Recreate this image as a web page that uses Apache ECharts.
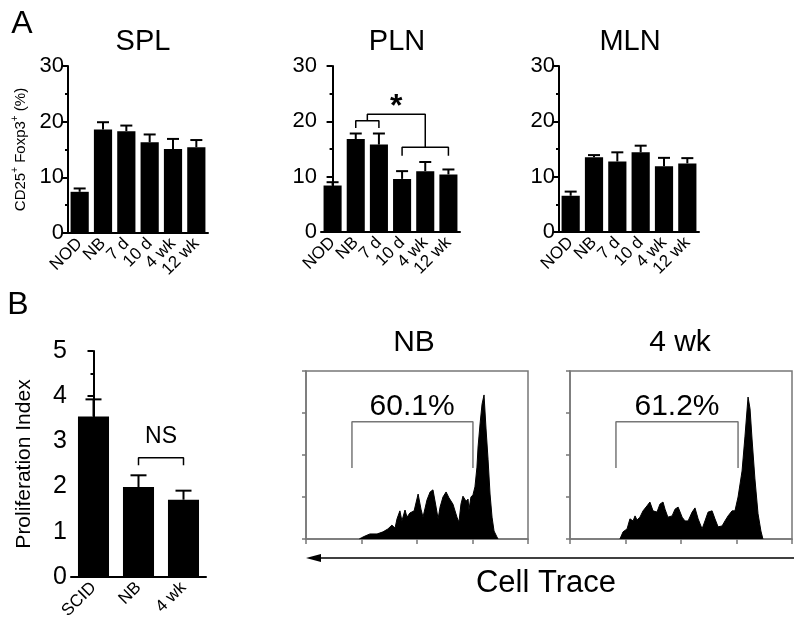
<!DOCTYPE html>
<html>
<head>
<meta charset="utf-8">
<script src="https://cdn.jsdelivr.net/npm/echarts@6/dist/echarts.min.js"></script>
<style>
  html, body { margin: 0; padding: 0; background: #fff; }
  #chart { width: 800px; height: 634px; }
</style>
</head>
<body>
<div id="chart"></div>
<script>
const FONT = '"Liberation Sans", Arial, sans-serif';

// Panel A: CD25+ Foxp3+ (%) by group, mean and upper SEM
const groups = ["NOD", "NB", "7 d", "10 d", "4 wk", "12 wk"];
const splMean = [7.4, 18.6, 18.3, 16.3, 15.1, 15.4];
const splErr = [0.6, 1.3, 1.0, 1.4, 1.8, 1.3];
const plnMean = [8.4, 16.8, 15.8, 9.6, 11.0, 10.4];
const plnErr = [0.6, 1.0, 2.0, 1.4, 1.65, 0.9];
const mlnMean = [6.55, 13.5, 12.75, 14.4, 11.9, 12.4];
const mlnErr = [0.75, 0.4, 1.65, 1.2, 1.5, 0.95];
const panelTitles = ["SPL", "PLN", "MLN"];

// PLN significance brackets (x in group index units)
const plnBracketLeft = [[1, 18.8], [1, 20.1], [2, 20.1], [2, 18.8]];
const plnBracketLink = [[1.5, 20.1], [1.5, 21.3], [4, 21.3], [4, 15.3]];
const plnBracketRight = [[3, 13.8], [3, 15.3], [5, 15.3], [5, 13.8]];
const plnStar = [[2.75, 24.2]];

// Panel B: proliferation index
const bGroups = ["SCID", "NB", "4 wk"];
const bMean = [3.55, 1.99, 1.71];
const bErr = [0.38, 0.26, 0.2];
const bBracket = [[1, 2.47], [1, 2.64], [2, 2.64], [2, 2.47]];
const bNs = [[1.5, 3.1]];

// Cell Trace histograms: [channel, count]
const histNB = [
  [240, 0], [250, 3], [257, 0], [266, 7], [288, 12], [320, 12], [347, 17], [369, 24],
  [387, 33], [401, 26], [410, 48], [423, 67], [432, 43], [446, 69], [455, 52], [468, 62],
  [487, 67], [505, 107], [518, 71], [527, 52], [545, 93], [559, 112], [572, 117], [586, 76],
  [595, 48], [604, 76], [617, 100], [631, 112], [644, 98], [662, 83], [680, 52], [689, 40],
  [698, 83], [707, 102], [721, 90], [730, 95], [734, 69], [743, 100], [752, 105], [761, 124],
  [770, 171], [775, 219], [784, 274], [793, 321], [802, 343], [811, 262], [820, 190],
  [829, 107], [838, 52], [847, 19], [860, 5], [865, 0]
];
const hist4wk = [
  [225, 0], [239, 17], [257, 24], [270, 48], [284, 43], [293, 55], [302, 45], [315, 52],
  [329, 67], [347, 79], [360, 88], [374, 67], [392, 64], [405, 83], [419, 88], [428, 71],
  [441, 52], [460, 55], [473, 71], [487, 76], [505, 52], [518, 43], [532, 43], [550, 64],
  [563, 74], [577, 48], [595, 24], [608, 43], [622, 64], [640, 67], [653, 48], [667, 29],
  [685, 31], [698, 43], [712, 55], [730, 67], [743, 67], [757, 100], [775, 162], [788, 243],
  [802, 338], [811, 310], [820, 238], [833, 143], [847, 60], [860, 19], [869, 0]
];
const gateNB = [[207, 169], [207, 279], [752, 279], [752, 169]];
const gate4wk = [[207, 169], [207, 279], [757, 279], [757, 169]];
const gateLabelNB = [[478, 314]];
const gateLabel4wk = [[482, 314]];
const histTitles = ["NB", "4 wk"];
const gatePercents = ["60.1%", "61.2%"];

const chart = echarts.init(document.getElementById("chart"));

const errRender = (half) => (params, api) => {
  const x = api.value(0);
  const m = api.value(1);
  const top = m + api.value(2);
  const p0 = api.coord([x, m]);
  const p1 = api.coord([x, top]);
  const style = { stroke: "#000", lineWidth: 2 };
  return {
    type: "group",
    children: [
      { type: "line", shape: { x1: p0[0], y1: p0[1], x2: p1[0], y2: p1[1] }, style },
      { type: "line", shape: { x1: p1[0] - half, y1: p1[1], x2: p1[0] + half, y2: p1[1] }, style },
    ],
  };
};

const catAxis = (gridIndex, data, fontSize) => ({
  type: "category",
  gridIndex,
  data,
  axisLine: { lineStyle: { color: "#000", width: 2 } },
  axisTick: { alignWithLabel: true, length: 5, lineStyle: { color: "#000", width: 2 } },
  axisLabel: { rotate: 45, fontSize, fontFamily: FONT, color: "#000", margin: 8, interval: 0 },
});

const valAxis = (gridIndex, max, interval, fontSize) => ({
  type: "value",
  gridIndex,
  min: 0,
  max,
  interval,
  axisLine: { show: true, lineStyle: { color: "#000", width: 2 } },
  axisTick: { show: true, length: 6, lineStyle: { color: "#000", width: 2 } },
  minorTick: { show: true, splitNumber: 2, length: 3, lineStyle: { color: "#000", width: 2 } },
  axisLabel: { fontSize, fontFamily: FONT, color: "#000", margin: 4 },
  splitLine: { show: false },
});

const histX = (gridIndex) => ({
  type: "value",
  gridIndex,
  min: 0,
  max: 1000,
  interval: 250,
  axisLine: { lineStyle: { color: "#777", width: 1.5 } },
  axisTick: { length: 5, lineStyle: { color: "#777", width: 1.5 } },
  axisLabel: { show: false },
  splitLine: { show: false },
});

const histY = (gridIndex) => ({
  type: "value",
  gridIndex,
  min: 0,
  max: 400,
  interval: 100,
  axisLine: { show: true, lineStyle: { color: "#777", width: 1.5 } },
  axisTick: { show: true, length: 4, lineStyle: { color: "#777", width: 1.5 } },
  axisLabel: { show: false },
  splitLine: { show: false },
});

const bracket = (xi, yi, data, color, width) => ({
  type: "line",
  xAxisIndex: xi,
  yAxisIndex: yi,
  data,
  symbol: "none",
  lineStyle: { color, width },
  silent: true,
});

const textMark = (xi, yi, data, text, fontSize, offset, fontWeight) => ({
  type: "scatter",
  xAxisIndex: xi,
  yAxisIndex: yi,
  data,
  symbolSize: 1,
  itemStyle: { color: "rgba(255,255,255,0)", opacity: 1 },
  label: {
    show: true,
    position: "inside",
    formatter: text,
    fontSize,
    fontFamily: FONT,
    fontWeight: fontWeight || "normal",
    color: "#000",
    opacity: 1,
    textBorderWidth: 0,
    offset: offset || [0, 0],
  },
  silent: true,
});

const means = [splMean, plnMean, mlnMean];
const errs = [splErr, plnErr, mlnErr];

const aY = [0, 1, 2].map((i) => valAxis(i, 30, 10, 22));
aY[0].name = "{n|CD25}{s|+}{n| Foxp3}{s|+}{n| (%)}";
aY[0].nameLocation = "middle";
aY[0].nameRotate = 90;
aY[0].nameGap = 40;
aY[0].nameTextStyle = {
  rich: {
    n: { fontSize: 15, fontFamily: FONT, color: "#000", lineHeight: 18, verticalAlign: "bottom" },
    s: { fontSize: 10, fontFamily: FONT, color: "#000", lineHeight: 18, verticalAlign: "top" },
  },
};

const bY = valAxis(3, 5, 1, 25);
bY.name = "Proliferation Index";
bY.nameLocation = "middle";
bY.nameRotate = 90;
bY.nameGap = 36;
bY.nameTextStyle = { fontSize: 21, fontFamily: FONT, color: "#000" };

const series = [];
[0, 1, 2].forEach((i) => {
  series.push({
    type: "bar",
    xAxisIndex: i,
    yAxisIndex: i,
    data: means[i],
    barWidth: "78%",
    itemStyle: { color: "#000" },
    silent: true,
  });
  series.push({
    type: "custom",
    xAxisIndex: i,
    yAxisIndex: i,
    renderItem: errRender(6),
    data: groups.map((g, j) => [j, means[i][j], errs[i][j]]),
    silent: true,
  });
});
series.push({
  type: "bar",
  xAxisIndex: 3,
  yAxisIndex: 3,
  data: bMean,
  barWidth: "69%",
  itemStyle: { color: "#000" },
  silent: true,
});
series.push({
  type: "custom",
  xAxisIndex: 3,
  yAxisIndex: 3,
  renderItem: errRender(8),
  data: bGroups.map((g, j) => [j, bMean[j], bErr[j]]),
  silent: true,
});
series.push(bracket(4, 1, plnBracketLeft, "#000", 1.5));
series.push(bracket(4, 1, plnBracketLink, "#000", 1.5));
series.push(bracket(4, 1, plnBracketRight, "#000", 1.5));
series.push(textMark(4, 1, plnStar, "*", 32, [0, 9], "bold"));
series.push(bracket(5, 3, bBracket, "#000", 1.5));
series.push(textMark(5, 3, bNs, "NS", 23));

[[histNB, gateNB, gateLabelNB], [hist4wk, gate4wk, gateLabel4wk]].forEach(([h, g, l], k) => {
  series.push({
    type: "line",
    xAxisIndex: 6 + k,
    yAxisIndex: 4 + k,
    data: h,
    symbol: "none",
    lineStyle: { color: "#000", width: 1 },
    areaStyle: { color: "#000", opacity: 1 },
    silent: true,
  });
  series.push(bracket(6 + k, 4 + k, g, "#777", 1.5));
  series.push(textMark(6 + k, 4 + k, l, gatePercents[k], 30));
});

const txt = (x, y, text, fontSize) => ({
  type: "text",
  x,
  y,
  style: { text, fontSize, fontFamily: FONT, fill: "#000", textAlign: "center", textVerticalAlign: "middle" },
});

const option = {
  animation: false,
  backgroundColor: "#fff",
  grid: [
    { left: 68, top: 66, width: 140, height: 167 },
    { left: 321, top: 66, width: 139, height: 166 },
    { left: 559, top: 66, width: 140, height: 166 },
    { left: 71, top: 351, width: 135, height: 226 },
    { left: 306, top: 371, width: 222, height: 168, show: true, borderColor: "#777", borderWidth: 1.5 },
    { left: 570, top: 371, width: 222, height: 168, show: true, borderColor: "#777", borderWidth: 1.5 },
  ],
  xAxis: [
    catAxis(0, groups, 17),
    catAxis(1, groups, 17),
    catAxis(2, groups, 17),
    catAxis(3, bGroups, 17),
    { type: "value", gridIndex: 1, min: -0.5, max: 5.5, show: false },
    { type: "value", gridIndex: 3, min: -0.5, max: 2.5, show: false },
    histX(4),
    histX(5),
  ],
  yAxis: [aY[0], aY[1], aY[2], bY, histY(4), histY(5)],
  series,
  graphic: [
    txt(22, 24, "A", 32),
    txt(18, 305, "B", 32),
    txt(143, 42, panelTitles[0], 29),
    txt(397, 42, panelTitles[1], 29),
    txt(630, 42, panelTitles[2], 29),
    txt(414, 343, histTitles[0], 30),
    txt(680, 343, histTitles[1], 30),
    txt(546, 583, "Cell Trace", 31),
    {
      type: "line",
      shape: { x1: 318, y1: 558, x2: 794, y2: 558 },
      style: { stroke: "#000", lineWidth: 1.5 },
    },
    {
      type: "polygon",
      shape: { points: [[306, 558], [321, 554], [321, 562]] },
      style: { fill: "#000" },
    },
  ],
};

chart.setOption(option);
window.addEventListener("resize", () => chart.resize());
</script>
</body>
</html>
